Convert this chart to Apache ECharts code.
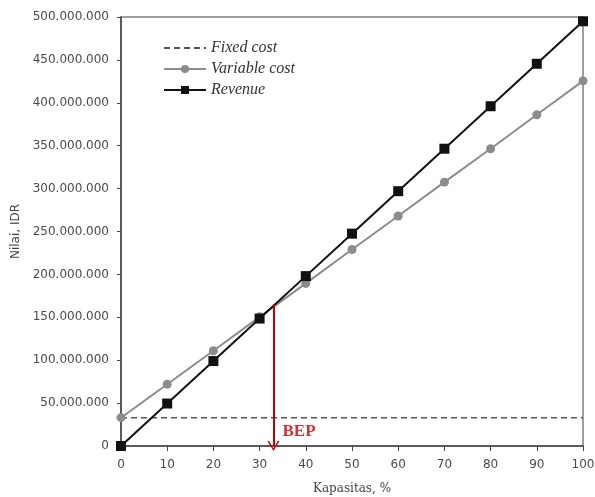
<!DOCTYPE html>
<html><head><meta charset="utf-8">
<script src="https://cdn.jsdelivr.net/npm/echarts@6/dist/echarts.min.js"></script>
<style>html,body{margin:0;padding:0;background:#fff}#c{width:595px;height:497px}</style>
</head><body><div id="c"></div>
<script>
const capacity = [0,10,20,30,40,50,60,70,80,90,100];
const fixedCost = [33000000,33000000,33000000,33000000,33000000,33000000,33000000,33000000,33000000,33000000,33000000];
const variableCost = [33000000,72000000,111000000,150500000,189500000,229000000,268000000,307500000,346500000,386000000,425500000];
const revenue = [0,49500000,99000000,148500000,198000000,247500000,297000000,346500000,396000000,445500000,495000000];
const bepX = 33;
const bepY = 165000000;
const seriesNames = ['Fixed cost','Variable cost','Revenue'];

function fmt(v){ return String(v).replace(/\B(?=(\d{3})+(?!\d))/g,'.'); }
const pairs = arr => capacity.map((x,i)=>[x,arr[i]]);

const chart = echarts.init(document.getElementById('c'));
chart.setOption({
  animation:false,
  grid:{left:121,right:12,top:17,bottom:51,show:true,borderColor:'#808080',borderWidth:1.5,outerBoundsMode:'none',containLabel:false},
  legend:{
    orient:'vertical',left:158,top:35,itemGap:5,itemWidth:42,itemHeight:10,
    textStyle:{fontFamily:'Liberation Serif',fontStyle:'italic',fontSize:16,color:'#333'},
    data:[{name:seriesNames[0],itemStyle:{opacity:0}},seriesNames[1],seriesNames[2]]
  },
  xAxis:{type:'value',min:0,max:100,interval:10,
    name:'Kapasitas, %',nameLocation:'middle',nameGap:37,
    nameTextStyle:{fontFamily:'DejaVu Serif',fontSize:12,color:'#444'},
    axisLine:{lineStyle:{color:'#444',width:1.5}},
    axisTick:{inside:false,length:5,lineStyle:{color:'#444'}},
    axisLabel:{fontFamily:'DejaVu Sans',fontSize:12,color:'#4a4a4a',margin:13},
    splitLine:{show:false}},
  yAxis:{type:'value',min:0,max:500000000,interval:50000000,
    name:'Nilai, IDR',nameLocation:'middle',nameGap:98,
    nameTextStyle:{fontFamily:'DejaVu Sans',fontSize:12,color:'#444'},
    axisLine:{show:true,lineStyle:{color:'#444',width:1.5}},
    axisTick:{show:true,length:4,lineStyle:{color:'#444'}},
    axisLabel:{fontFamily:'DejaVu Sans',fontSize:12,color:'#4a4a4a',margin:12,formatter:fmt},
    splitLine:{show:false}},
  series:[
    {name:seriesNames[0],type:'line',data:pairs(fixedCost),showSymbol:false,symbol:'none',
     lineStyle:{color:'#555',width:1.5,type:[6,4]},itemStyle:{color:'#555'},z:2},
    {name:seriesNames[1],type:'line',data:pairs(variableCost),symbol:'circle',symbolSize:9,
     lineStyle:{color:'#8c8c8c',width:2},itemStyle:{color:'#8c8c8c'},z:3},
    {name:seriesNames[2],type:'line',data:pairs(revenue),symbol:'rect',symbolSize:10,
     lineStyle:{color:'#111',width:2},itemStyle:{color:'#111'},z:4,
     markLine:{silent:true,symbol:['none','path://M5,0 L10,10 L8.6,10 L5,2.6 L1.4,10 L0,10 Z'],symbolSize:[12,10],symbolOffset:[0,0],
       lineStyle:{color:'#c00000',width:2,type:'solid'},label:{show:false},
       data:[[{coord:[bepX,bepY]},{coord:[bepX,0]}]]}},
    {type:'scatter',data:[[bepX,0]],symbolSize:0,silent:true,z:5,
     label:{show:true,formatter:'BEP',position:'right',offset:[4,-14],
       fontFamily:'Liberation Serif',fontWeight:'bold',fontSize:17,color:'#c00000'}}
  ]
});
</script></body></html>
